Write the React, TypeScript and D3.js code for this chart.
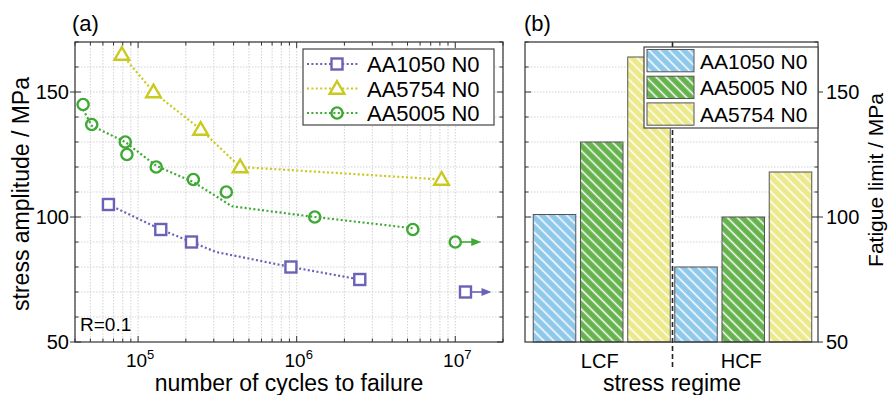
import * as d3 from "d3";

// ---- panel (a): S-N data ----
const aa1050Cycles = [6.5e4, 1.39e5, 2.17e5, 9.2e5, 2.5e6];
const aa1050Stress = [105, 95, 90, 80, 75];
const aa1050Trend: [number, number][] = [[6.5e4, 105], [1.39e5, 95], [2.17e5, 90], [3.1e5, 86], [9.2e5, 80], [2.5e6, 75]];
const aa1050Runout: [number, number] = [1.16e7, 70];

const aa5754Cycles = [7.9e4, 1.25e5, 2.48e5, 4.4e5, 8.2e6];
const aa5754Stress = [165, 150, 135, 120, 115];

const aa5005Cycles = [4.5e4, 5.1e4, 8.3e4, 8.5e4, 1.3e5, 2.23e5, 3.6e5, 1.3e6, 5.4e6];
const aa5005Stress = [145, 137, 130, 125, 120, 115, 110, 100, 95];
const aa5005Trend: [number, number][] = [[4.5e4, 143], [5.1e4, 136.5], [8.3e4, 130], [1.3e5, 120.5], [2.23e5, 114], [3.9e5, 104.3], [1.3e6, 100], [5.4e6, 95.5]];
const aa5005Runout: [number, number] = [1.0e7, 90];

// ---- panel (b): fatigue limits ----
const regimes = ["LCF", "HCF"];
const alloys = ["AA1050 N0", "AA5005 N0", "AA5754 N0"];
const lcfLimits = [101, 130, 164];
const hcfLimits = [80, 100, 118];

const xTicks = [1e5, 1e6, 1e7];
const yMajor = [50, 100, 150];

const PURPLE = "#6a62b6";
const YELLOW = "#c9c91f";
const GREEN = "#3ea935";
const BAR_COLORS = ["#8ec8ea", "#66b34e", "#ece98b"];
const FONT = "'Liberation Sans', Arial, sans-serif";

const W = 889;
const H = 395;
const A = { left: 75, right: 503, top: 42, bottom: 342 };
const B = { left: 525, right: 818, top: 42, bottom: 342 };

function Square({ x, y, c }: { x: number; y: number; c: string }) {
  return <rect x={x - 5.5} y={y - 5.5} width={11} height={11} fill="white" stroke={c} strokeWidth={2.4} />;
}
function Tri({ x, y, c }: { x: number; y: number; c: string }) {
  const s = 7;
  return (
    <path
      d={`M${x},${y - s * 1.05}L${x + s * 1.05},${y + s * 0.75}L${x - s * 1.05},${y + s * 0.75}Z`}
      fill="white"
      stroke={c}
      strokeWidth={2.4}
      strokeLinejoin="miter"
    />
  );
}
function Circ({ x, y, c }: { x: number; y: number; c: string }) {
  return <circle cx={x} cy={y} r={5.6} fill="none" stroke={c} strokeWidth={2.4} />;
}

export default function App() {
  const x = d3.scaleLog().domain([4e4, 2e7]).range([A.left, A.right]);
  const y = d3.scaleLinear().domain([50, 170]).range([A.bottom, A.top]);
  const line = d3
    .line<[number, number]>()
    .x((d) => x(d[0]))
    .y((d) => y(d[1]));

  const minorX: number[] = [];
  for (let e = 4; e <= 7; e++) {
    for (let m = 1; m <= 9; m++) {
      const v = m * Math.pow(10, e);
      if (v >= 4e4 && v <= 2e7) minorX.push(v);
    }
  }
  const minorY = d3.range(60, 171, 10);

  const band = d3.scaleBand<string>().domain(regimes).range([B.left + 6, B.right - 4]);
  const inner = d3.scaleBand<string>().domain(alloys).range([-68.5, 68.5]).paddingInner(0.1);
  const divX = (band("HCF") as number);
  const byRegime: Record<string, number[]> = { LCF: lcfLimits, HCF: hcfLimits };

  const aa5754Pts: [number, number][] = aa5754Cycles.map((c, i) => [c, aa5754Stress[i]]);

  const legendA = [
    { name: "AA1050 N0", c: PURPLE, m: "s" },
    { name: "AA5754 N0", c: YELLOW, m: "t" },
    { name: "AA5005 N0", c: GREEN, m: "c" },
  ];
  const marker = (m: string, px: number, py: number, c: string, k?: string) =>
    m === "s" ? <Square key={k} x={px} y={py} c={c} /> : m === "t" ? <Tri key={k} x={px} y={py} c={c} /> : <Circ key={k} x={px} y={py} c={c} />;

  const runout = (p: [number, number], c: string, m: string) => {
    const px = x(p[0]);
    const py = y(p[1]);
    return (
      <g>
        {marker(m, px, py, c)}
        <line x1={px + 6} x2={px + 18} y1={py} y2={py} stroke={c} strokeWidth={1.6} />
        <path d={`M${px + 26},${py}L${px + 16},${py - 4}L${px + 16},${py + 4}Z`} fill={c} />
      </g>
    );
  };

  return (
    <svg width={W} height={H} style={{ position: "absolute", left: 0, top: 0, background: "white" }} fontFamily={FONT}>
      <defs>
        {BAR_COLORS.map((c, i) => (
          <pattern key={i} id={`hatch${i}`} patternUnits="userSpaceOnUse" width={7} height={7} patternTransform="rotate(-45)">
            <rect width={7} height={7} fill={c} />
            <line x1={3.5} x2={3.5} y1={0} y2={7} stroke="white" strokeWidth={1.5} />
          </pattern>
        ))}
      </defs>

      {/* ===== panel (a) ===== */}
      <text x={72} y={31} fontSize={22}>(a)</text>
      <g stroke="#c8c8c8" strokeWidth={0.8} strokeDasharray="1.5,1.5">
        {minorX.map((v) => (
          <line key={`gx${v}`} x1={x(v)} x2={x(v)} y1={A.top} y2={A.bottom} />
        ))}
        {minorY.map((v) => (
          <line key={`gy${v}`} x1={A.left} x2={A.right} y1={y(v)} y2={y(v)} />
        ))}
      </g>
      {/* ticks */}
      <g stroke="#333" strokeWidth={1}>
        {minorX.map((v) => (
          <g key={`tx${v}`}>
            <line x1={x(v)} x2={x(v)} y1={A.bottom} y2={A.bottom - (xTicks.includes(v) ? 6 : 3.5)} />
            <line x1={x(v)} x2={x(v)} y1={A.top} y2={A.top + (xTicks.includes(v) ? 6 : 3.5)} />
          </g>
        ))}
        {minorY.concat([50]).map((v) => (
          <g key={`ty${v}`}>
            <line x1={A.left} x2={A.left + (yMajor.includes(v) ? 6 : 3.5)} y1={y(v)} y2={y(v)} />
            <line x1={A.right} x2={A.right - (yMajor.includes(v) ? 6 : 3.5)} y1={y(v)} y2={y(v)} />
          </g>
        ))}
        {yMajor.map((v) => (
          <line key={`tyo${v}`} x1={A.left - 5} x2={A.left} y1={y(v)} y2={y(v)} />
        ))}
      </g>
      <rect x={A.left} y={A.top} width={A.right - A.left} height={A.bottom - A.top} fill="none" stroke="#333" strokeWidth={1.2} />
      {yMajor.map((v) => (
        <text key={`ly${v}`} x={A.left - 6} y={y(v) + 7} fontSize={20} textAnchor="end">
          {v}
        </text>
      ))}
      {xTicks.map((v) => (
        <text key={`lx${v}`} x={x(v) + 2} y={367} fontSize={19} textAnchor="middle">
          10<tspan dy={-8} fontSize={13}>{Math.round(Math.log10(v))}</tspan>
        </text>
      ))}
      <text x={(A.left + A.right) / 2} y={391} fontSize={23} textAnchor="middle">
        number of cycles to failure
      </text>
      <text transform={`translate(29,${(A.top + A.bottom) / 2 + 2}) rotate(-90)`} fontSize={23} textAnchor="middle">
        stress amplitude / MPa
      </text>
      <text x={80} y={331} fontSize={19}>R=0.1</text>

      {/* series lines */}
      <g fill="none" strokeWidth={2.2} strokeDasharray="2,2.4">
        <path d={line(aa1050Trend) || ""} stroke={PURPLE} />
        <path d={line(aa5754Pts) || ""} stroke={YELLOW} />
        <path d={line(aa5005Trend) || ""} stroke={GREEN} />
      </g>
      {aa1050Cycles.map((c, i) => marker("s", x(c), y(aa1050Stress[i]), PURPLE, `s${i}`))}
      {aa5754Cycles.map((c, i) => marker("t", x(c), y(aa5754Stress[i]), YELLOW, `t${i}`))}
      {aa5005Cycles.map((c, i) => marker("c", x(c), y(aa5005Stress[i]), GREEN, `c${i}`))}
      {runout(aa5005Runout, GREEN, "c")}
      {runout(aa1050Runout, PURPLE, "s")}

      {/* legend (a) */}
      <rect x={303} y={49} width={191} height={76} fill="white" stroke="#444" strokeWidth={1.2} />
      {legendA.map((d, i) => {
        const ly = 64 + i * 24.5;
        return (
          <g key={d.name}>
            <line x1={307} x2={358} y1={ly} y2={ly} stroke={d.c} strokeWidth={2.2} strokeDasharray="2,2.4" />
            {marker(d.m, 337, ly, d.c)}
            <text x={367} y={ly + 8} fontSize={22}>{d.name}</text>
          </g>
        );
      })}

      {/* ===== panel (b) ===== */}
      <text x={524} y={31} fontSize={22}>(b)</text>
      <g stroke="#c8c8c8" strokeWidth={0.8} strokeDasharray="1.5,1.5">
        {minorY.map((v) => (
          <line key={`bgy${v}`} x1={B.left} x2={B.right} y1={y(v)} y2={y(v)} />
        ))}
      </g>
      {regimes.map((r) =>
        byRegime[r].map((v, i) => {
          const cx = (band(r) as number) + band.bandwidth() / 2;
          const bx = cx + (inner(alloys[i]) as number);
          return (
            <rect
              key={`${r}${i}`}
              x={bx}
              y={y(v)}
              width={inner.bandwidth()}
              height={y(50) - y(v)}
              fill={`url(#hatch${i})`}
              stroke="#555"
              strokeWidth={1}
            />
          );
        })
      )}
      <g stroke="#333" strokeWidth={1}>
        {minorY.map((v) => (
          <g key={`bty${v}`}>
            <line x1={B.left} x2={B.left + (yMajor.includes(v) ? 6 : 3.5)} y1={y(v)} y2={y(v)} />
            <line x1={B.right} x2={B.right - (yMajor.includes(v) ? 6 : 3.5)} y1={y(v)} y2={y(v)} />
          </g>
        ))}
        {yMajor.map((v) => (
          <line key={`btyo${v}`} x1={B.right} x2={B.right + 5} y1={y(v)} y2={y(v)} />
        ))}
        <line x1={divX} x2={divX} y1={B.top} y2={B.top + 6} />
      </g>
      <line x1={divX} x2={divX} y1={B.top} y2={368} stroke="#222" strokeWidth={1.6} strokeDasharray="5,3" />
      <rect x={B.left} y={B.top} width={B.right - B.left} height={B.bottom - B.top} fill="none" stroke="#333" strokeWidth={1.2} />
      {yMajor.map((v) => (
        <text key={`bly${v}`} x={826} y={y(v) + 7} fontSize={20}>
          {v}
        </text>
      ))}
      {regimes.map((r) => (
        <text key={r} x={(band(r) as number) + band.bandwidth() / 2 - 2} y={368} fontSize={20} textAnchor="middle">
          {r}
        </text>
      ))}
      <text x={672} y={391} fontSize={23} textAnchor="middle">
        stress regime
      </text>
      <text transform={`translate(883,180) rotate(-90)`} fontSize={21} textAnchor="middle">
        Fatigue limit / MPa
      </text>

      {/* legend (b) */}
      <rect x={644} y={47} width={174} height={81} fill="white" stroke="#444" strokeWidth={1.2} />
      {alloys.map((a, i) => {
        const ry = 49.5 + i * 26.7;
        return (
          <g key={a}>
            <rect x={647} y={ry} width={47} height={22.3} fill={`url(#hatch${i})`} stroke="#555" strokeWidth={1} />
            <text x={700} y={ry + 19} fontSize={21}>{a}</text>
          </g>
        );
      })}
    </svg>
  );
}
